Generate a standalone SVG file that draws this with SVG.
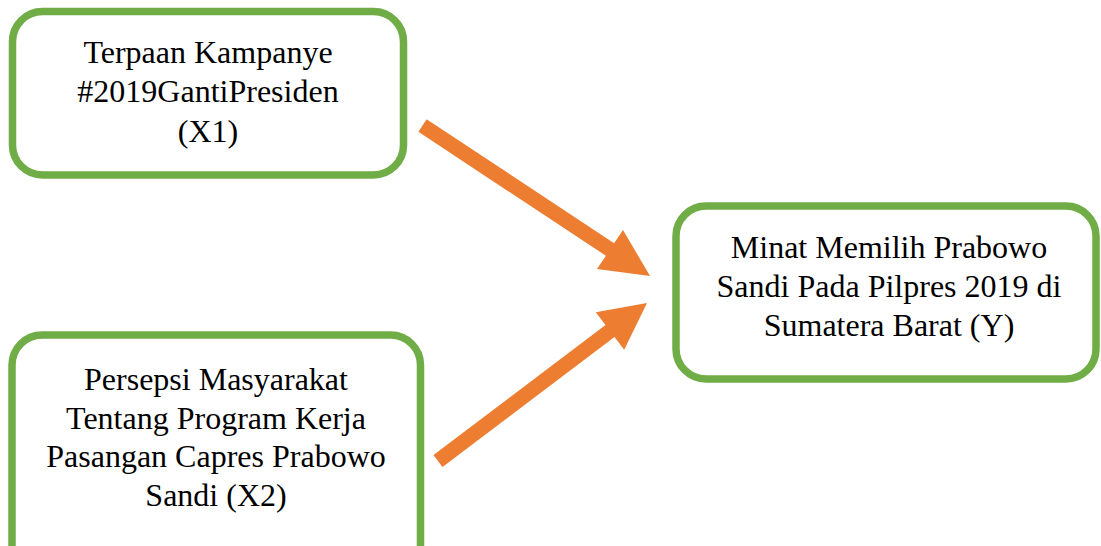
<svg xmlns="http://www.w3.org/2000/svg" width="1101" height="546" viewBox="0 0 1101 546">
<style>
.box{fill:#fff;stroke:#70AD47;stroke-width:7.5}
.t{font-family:"Liberation Serif","Times New Roman",serif;font-size:32px;fill:#000;text-anchor:middle}
.arr{fill:#ED7D31;stroke:none}
</style>
<rect width="1101" height="546" fill="#fff"/>
<g id="node-x1">
<rect class="box" x="12.5" y="11.5" width="391" height="163.5" rx="30"/>
<text class="t" x="208" y="63">Terpaan Kampanye</text>
<text class="t" x="208" y="102">#2019GantiPresiden</text>
<text class="t" x="208" y="142">(X1)</text>
</g>
<g id="node-x2">
<rect class="box" x="12" y="335" width="408.5" height="240" rx="30"/>
<text class="t" x="216" y="390">Persepsi Masyarakat</text>
<text class="t" x="216" y="428.5">Tentang Program Kerja</text>
<text class="t" x="216" y="467">Pasangan Capres Prabowo</text>
<text class="t" x="216" y="505.5">Sandi (X2)</text>
</g>
<g id="node-y">
<rect class="box" x="676" y="206" width="420" height="173" rx="30"/>
<text class="t" x="889" y="258">Minat Memilih Prabowo</text>
<text class="t" x="889" y="297">Sandi Pada Pilpres 2019 di</text>
<text class="t" x="889" y="336">Sumatera Barat (Y)</text>
</g>
<g id="connectors">
<polygon class="arr" points="426.6,119.2 614.1,243.2 623,229.9 650,276 597,269.1 605.9,255.8 418.4,131.8"/>
<polygon class="arr" points="433.5,455 605.5,325 595.8,312.3 647,303 624.2,349.7 614.5,337 442.5,467"/>
</g>
</svg>
